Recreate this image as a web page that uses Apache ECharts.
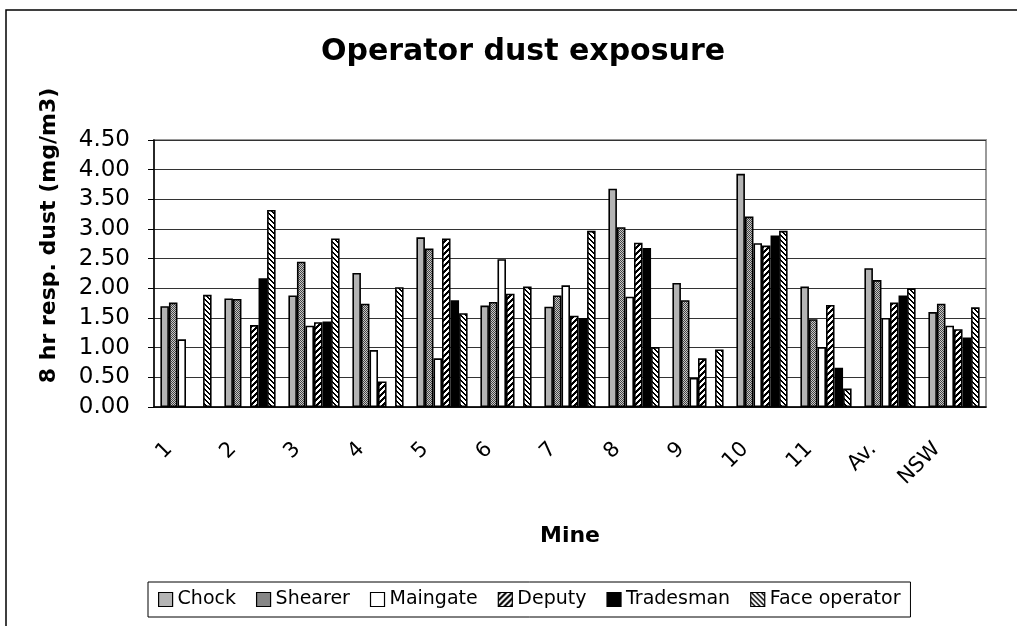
<!DOCTYPE html>
<html>
<head>
<meta charset="utf-8">
<script src="https://cdn.jsdelivr.net/npm/echarts@6/dist/echarts.min.js"></script>
<style>
    html, body {
        margin: 0;
        padding: 0;
        background: #fff;
    }

    #dustChart {
        width: 1017px;
        height: 626px;
    }
</style>
</head>
<body>
<div id="dustChart"></div>
<script>
    // mines along the x axis
    const mines = ['1', '2', '3', '4', '5', '6', '7', '8', '9', '10', '11', 'Av.', 'NSW'];
    const yTicks = [0, 0.5, 1, 1.5, 2, 2.5, 3, 3.5, 4, 4.5];

    // 8 hr resp. dust (mg/m3); null = no bar
    const chock = [1.70, 1.83, 1.88, 2.26, 2.86, 1.71, 1.69, 3.68, 2.09, 3.93, 2.03, 2.34, 1.60];
    const shearer = [1.76, 1.82, 2.45, 1.74, 2.67, 1.77, 1.88, 3.03, 1.80, 3.21, 1.48, 2.14, 1.74];
    const maingate = [1.14, null, 1.37, 0.96, 0.82, 2.49, 2.05, 1.86, 0.49, 2.76, 1.01, 1.50, 1.37];
    const deputy = [null, 1.38, 1.43, 0.43, 2.84, 1.91, 1.54, 2.77, 0.82, 2.72, 1.72, 1.76, 1.31];
    const tradesman = [null, 2.17, 1.44, null, 1.80, null, 1.50, 2.68, null, 2.89, 0.66, 1.88, 1.17];
    const faceOperator = [1.89, 3.32, 2.84, 2.02, 1.58, 2.03, 2.97, 1.01, 0.97, 2.97, 0.31, 2.00, 1.68];

    const font = '"DejaVu Sans", "Liberation Sans", sans-serif';

    // little tiles used as hatch fills
    function tile(size, paint) {
        let c = document.createElement('canvas');
        c.width = size;
        c.height = size;
        let g = c.getContext('2d');
        for (let x = 0; x < size; x++) {
            for (let y = 0; y < size; y++) {
                g.fillStyle = paint(x, y);
                g.fillRect(x, y, 1, 1);
            }
        }
        return { image: c, repeat: 'repeat' };
    }

    const dotted = tile(2, (x, y) => (x + y) % 2 === 0 ? '#444' : '#c8c8c8');
    const slash = tile(6, (x, y) => (x + y) % 6 < 3 ? '#000' : '#fff');
    const backslash = tile(5, (x, y) => (x - y + 10) % 5 < 2 ? '#000' : '#fff');

    function bars(name, data, fill) {
        return {
            name: name,
            type: 'bar',
            data: data,
            barGap: 0,
            barCategoryGap: '20%',
            itemStyle: {
                color: fill,
                borderColor: '#000',
                borderWidth: 1.6
            }
        };
    }

    let chart = echarts.init(document.getElementById('dustChart'));
    let option = {
        animation: false,
        backgroundColor: '#fff',
        graphic: [{
            type: 'rect',
            shape: { x: 6, y: 10, width: 1200, height: 900 },
            style: { fill: 'none', stroke: '#000', lineWidth: 1.5 },
            silent: true
        }],
        title: {
            text: 'Operator dust exposure',
            left: 518,
            textAlign: 'center',
            top: 32,
            textStyle: {
                fontFamily: font,
                fontSize: 30,
                fontWeight: 'bold',
                color: '#000'
            }
        },
        legend: {
            left: 148,
            top: 582,
            padding: [8, 10],
            itemGap: 20,
            itemWidth: 14,
            itemHeight: 14,
            icon: 'rect',
            borderColor: '#000',
            borderWidth: 1,
            itemStyle: {
                borderColor: '#000',
                borderWidth: 1.2
            },
            textStyle: {
                fontFamily: font,
                fontSize: 19,
                color: '#000'
            }
        },
        grid: {
            left: 154,
            top: 140,
            right: 31,
            bottom: 219,
            show: true,
            borderColor: '#9a9a9a',
            borderWidth: 2
        },
        xAxis: {
            type: 'category',
            data: mines,
            name: 'Mine',
            nameLocation: 'middle',
            nameGap: 118,
            nameTextStyle: {
                fontFamily: font,
                fontSize: 22,
                fontWeight: 'bold',
                color: '#000'
            },
            axisLine: { lineStyle: { color: '#000', width: 1.5 } },
            axisTick: { length: 6, lineStyle: { color: '#000' } },
            axisLabel: {
                rotate: 45,
                interval: 0,
                margin: 22,
                padding: [0, 24, 0, 0],
                fontFamily: font,
                fontSize: 21,
                color: '#000'
            }
        },
        yAxis: {
            type: 'value',
            min: yTicks[0],
            max: yTicks[yTicks.length - 1],
            interval: 0.5,
            name: '8 hr resp. dust (mg/m3)',
            nameLocation: 'middle',
            nameGap: 94,
            nameTextStyle: {
                fontFamily: font,
                fontSize: 22,
                fontWeight: 'bold',
                color: '#000',
                padding: [0, 0, 0, 76]
            },
            axisLine: { show: true, lineStyle: { color: '#000', width: 1.5 } },
            axisTick: { show: true, length: 6, lineStyle: { color: '#000' } },
            axisLabel: {
                margin: 24,
                fontFamily: font,
                fontSize: 23,
                color: '#000',
                formatter: v => v.toFixed(2)
            },
            splitLine: { lineStyle: { color: '#333', width: 1 } }
        },
        series: [
            bars('Chock', chock, '#b4b4b4'),
            bars('Shearer', shearer, dotted),
            bars('Maingate', maingate, '#fff'),
            bars('Deputy', deputy, slash),
            bars('Tradesman', tradesman, '#000'),
            bars('Face operator', faceOperator, backslash)
        ]
    };
    chart.setOption(option);
</script>
</body>
</html>
